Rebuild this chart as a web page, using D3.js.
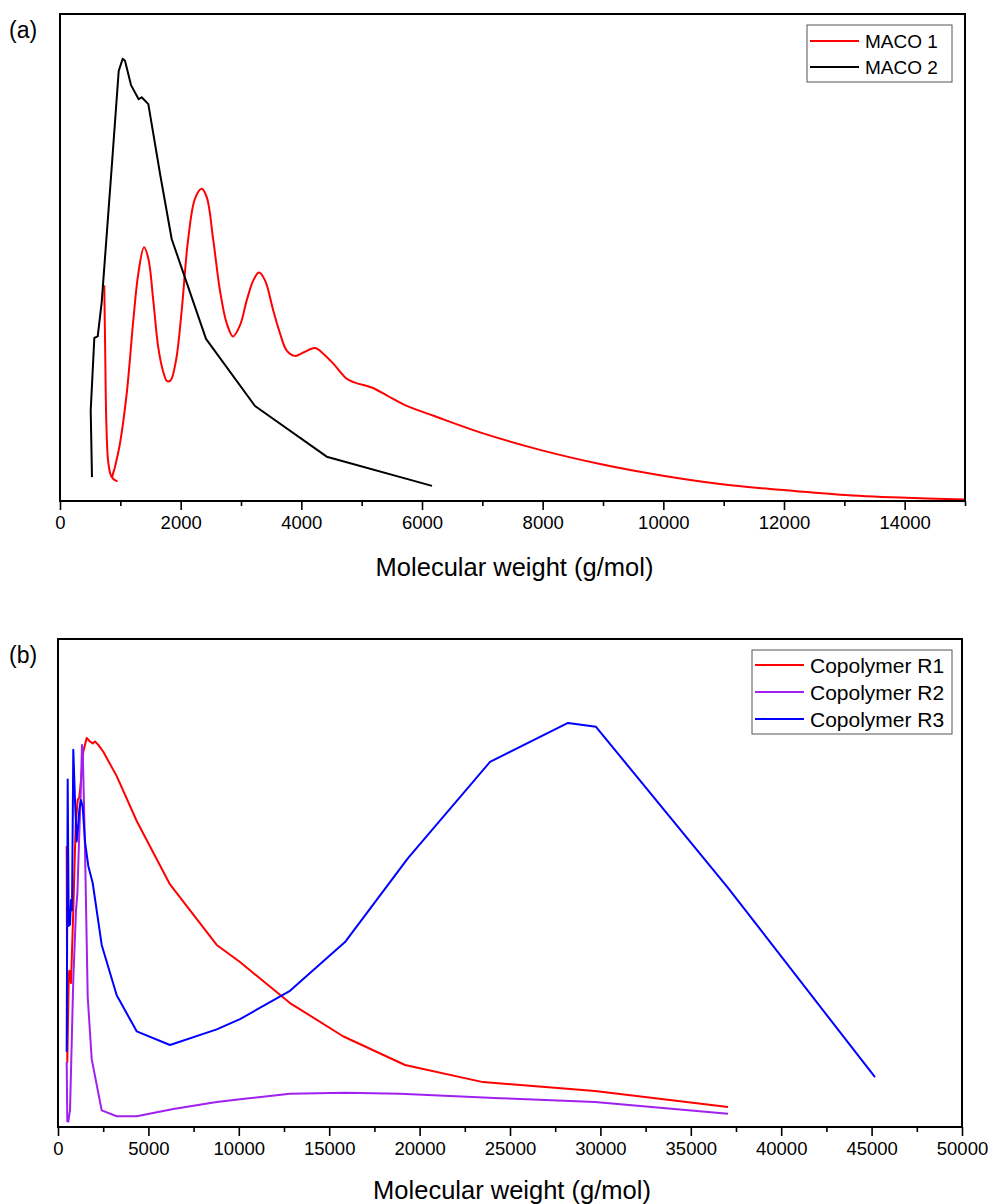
<!DOCTYPE html>
<html>
<head>
<meta charset="utf-8">
<script src="https://cdn.jsdelivr.net/npm/d3@7"></script>
<style>
body { margin: 0; background: #fff; }
svg text { font-family: Arial, "Liberation Sans", sans-serif; fill: #000; }
</style>
</head>
<body>
<div id="chart"></div>
<script>
// ---- panel (a) data: molecular weight (g/mol) vs. detector signal (a.u.) ----
const maco1Mw = [734, 749, 767, 796, 837, 870, 940, 870, 912, 995, 1106, 1215, 1298, 1392, 1464, 1546, 1629, 1712,
    1775, 1835, 1923, 2017, 2122, 2238, 2349, 2432, 2541, 2652, 2763, 2867, 2984, 3095, 3204, 3298, 3398, 3535, 3647,
    3758, 3895, 4033, 4227, 4359, 4530, 4752, 4890, 5166, 5415, 5718, 6216, 6962, 7956, 8951, 9945, 10940,
    11934, 12929, 13923, 15000];
const maco1Signal = [44.3, 30.9, 16.6, 8.4, 5.5, 4.7, 4.1, 4.7, 7.0, 11.9, 22.1, 37.1, 46.7, 52.1, 49.8, 41.2, 31.5, 26.5,
    24.6, 24.8, 28.9, 39.1, 53.5, 62.1, 64.1, 62.4, 53.5, 43.2, 36.5, 33.8, 36.1, 41.2, 45.3, 46.9, 45.3, 39.1, 34.4,
    30.9, 29.8, 30.5, 31.4, 30.3, 28.2, 25.1, 24.3, 23.3, 21.7, 19.7, 17.4, 14.1, 10.5, 7.6, 5.3, 3.5,
    2.3, 1.3, 0.7, 0.3];

const maco2Mw = [530, 509, 569, 625, 691, 857, 973, 1039, 1077, 1177, 1304, 1354, 1464, 1658, 1851, 2420, 3232, 4421, 6166];
const maco2Signal = [4.9, 18.6, 33.5, 33.8, 40.8, 68.5, 88.3, 90.8, 90.4, 85.4, 82.5, 82.9, 81.5, 67.2, 53.8, 33.3, 19.5, 9.1, 3.1];

// ---- panel (b) data ----
const r1Mw = [481, 514, 592, 625, 719, 846, 979, 1090, 1178, 1294, 1399, 1587, 1770, 1919, 2046, 2229, 2505, 3247,
    4353, 6195, 8778, 10066, 12832, 15763, 19193, 23507, 29701, 37058];
const r1Signal = [57.6, 13.3, 30.2, 32.0, 29.5, 44.4, 62.0, 67.1, 67.5, 71.9, 76.9, 79.7, 79.0, 78.6, 79.0, 78.3, 76.9, 71.9,
    62.7, 49.7, 37.3, 33.8, 25.4, 18.6, 12.7, 9.2, 7.4, 4.1];

const r2Mw = [481, 514, 570, 664, 846, 996, 1073, 1162, 1256, 1327, 1366, 1493, 1643, 1864, 2417, 3247, 4353, 6377,
    8778, 10066, 12832, 15874, 18916, 24447, 29701, 37058];
const r2Signal = [13.3, 1.2, 1.1, 3.4, 30.2, 44.4, 47.9, 58.5, 68.4, 78.3, 77.6, 57.1, 26.7, 13.9, 3.4, 2.2, 2.2, 3.7,
    5.1, 5.7, 6.8, 7.0, 6.8, 5.9, 5.1, 2.7];

const r3Mw = [481, 536, 592, 664, 719, 774, 846, 940, 1034, 1106, 1178, 1272, 1366, 1493, 1676, 1919, 2417, 3247,
    4353, 6195, 8778, 10066, 12832, 15874, 19359, 23894, 28208, 29757, 37058, 45188];
const r3Signal = [15.4, 71.2, 41.2, 41.5, 46.5, 44.4, 77.3, 67.0, 58.5, 61.4, 64.9, 67.0, 65.6, 58.5, 53.5, 50.0, 37.3, 27.0,
    19.6, 16.8, 20.0, 22.1, 27.9, 37.9, 55.1, 74.8, 82.8, 82.0, 49.0, 10.2];

// ---- axes ----
const ticksA = [0, 2000, 4000, 6000, 8000, 10000, 12000, 14000];
const ticksB = [0, 5000, 10000, 15000, 20000, 25000, 30000, 35000, 40000, 45000, 50000];
const xTitle = "Molecular weight (g/mol)";

/*
 * One GPC panel: framed box, bottom axis with minor ticks, curves, legend
 */
class GpcPanel {

    constructor(svg, cfg) {
        this.svg = svg;
        this.cfg = cfg;
        this.initVis();
    }

    initVis() {
        let vis = this;
        let c = vis.cfg;

        vis.g = vis.svg.append("g");

        vis.x = d3.scaleLinear()
            .domain([0, c.xMax])
            .range([c.left, c.right]);

        vis.y = d3.scaleLinear()
            .domain([0, 100])
            .range([c.bottom, c.top]);

        // minor ticks first, majors on top
        let minor = d3.range(0, c.xMax + 1, c.minorStep).filter(v => !c.ticks.includes(v));
        vis.g.append("g")
            .attr("class", "x-axis-minor")
            .attr("transform", "translate(0," + c.bottom + ")")
            .call(d3.axisBottom(vis.x).tickValues(minor).tickSize(5).tickSizeOuter(0).tickFormat(""));

        vis.xAxis = d3.axisBottom(vis.x)
            .tickValues(c.ticks)
            .tickSize(9)
            .tickSizeOuter(0)
            .tickPadding(6)
            .tickFormat(d3.format("d"));

        vis.g.append("g")
            .attr("class", "x-axis axis")
            .attr("transform", "translate(0," + c.bottom + ")")
            .call(vis.xAxis);

        vis.g.selectAll(".domain").remove();
        vis.g.selectAll(".tick line").attr("stroke", "#000").attr("stroke-width", 1.6);
        vis.g.selectAll(".x-axis .tick text")
            .attr("font-size", "18.5px")
            .attr("font-family", "Arial, 'Liberation Sans', sans-serif")
            .attr("fill", "#000");

        // clip for the curves
        vis.g.append("clipPath")
            .attr("id", c.id + "-clip")
            .append("rect")
            .attr("x", c.left)
            .attr("y", c.top)
            .attr("width", c.right - c.left)
            .attr("height", c.bottom - c.top);

        let line = d3.line()
            .x(d => vis.x(d[0]))
            .y(d => vis.y(d[1]));

        c.series.forEach(function(s) {
            let pts = s.mw.map((m, i) => [m, s.signal[i]]);
            line.curve(s.smooth ? d3.curveCatmullRom.alpha(0.5) : d3.curveLinear);
            vis.g.append("path")
                .datum(pts)
                .attr("clip-path", "url(#" + c.id + "-clip)")
                .attr("fill", "none")
                .attr("stroke", s.color)
                .attr("stroke-width", 2)
                .attr("stroke-linejoin", "round")
                .attr("d", line);
        });

        // frame
        vis.g.append("rect")
            .attr("x", c.left)
            .attr("y", c.top)
            .attr("width", c.right - c.left)
            .attr("height", c.bottom - c.top)
            .attr("fill", "none")
            .attr("stroke", "#000")
            .attr("stroke-width", 2);

        // axis title + panel label
        vis.g.append("text")
            .attr("x", (c.left + c.right) / 2 + 2)
            .attr("y", c.bottom + c.titleDy)
            .attr("text-anchor", "middle")
            .attr("font-size", "25.5px")
            .text(xTitle);

        vis.g.append("text")
            .attr("x", 9)
            .attr("y", c.top + 24)
            .attr("font-size", "23px")
            .text(c.label);

        // legend
        let lg = c.legend;
        vis.g.append("rect")
            .attr("x", lg.x)
            .attr("y", lg.y)
            .attr("width", lg.w)
            .attr("height", lg.h)
            .attr("fill", "#fff")
            .attr("stroke", "#555")
            .attr("stroke-width", 1);

        let items = vis.g.selectAll(".legend-item")
            .data(c.series)
            .enter()
            .append("g")
            .attr("class", "legend-item")
            .attr("transform", (d, i) => "translate(" + lg.x + "," + (lg.y + lg.first + i * lg.step) + ")");

        items.append("line")
            .attr("x1", 3)
            .attr("x2", 52)
            .attr("stroke", d => d.color)
            .attr("stroke-width", 2);

        items.append("text")
            .attr("x", 58)
            .attr("y", lg.fontSize * 0.36)
            .attr("font-size", lg.fontSize + "px")
            .text(d => d.name);
    }
}

let svg = d3.select("#chart").append("svg")
    .attr("width", 992)
    .attr("height", 1204);

new GpcPanel(svg, {
    id: "pa", label: "(a)",
    left: 60, right: 965, top: 14, bottom: 501, titleDy: 75,
    xMax: 15000, ticks: ticksA, minorStep: 1000,
    legend: {x: 807, y: 25, w: 145, h: 57, first: 16, step: 26, fontSize: 19},
    series: [
        {name: "MACO 1", color: "#ff0000", mw: maco1Mw, signal: maco1Signal, smooth: true},
        {name: "MACO 2", color: "#000000", mw: maco2Mw, signal: maco2Signal, smooth: false}
    ]
});

new GpcPanel(svg, {
    id: "pb", label: "(b)",
    left: 58, right: 962, top: 639, bottom: 1127, titleDy: 72,
    xMax: 50000, ticks: ticksB, minorStep: 2500,
    legend: {x: 752, y: 650, w: 200, h: 84, first: 15, step: 27, fontSize: 21},
    series: [
        {name: "Copolymer R1", color: "#ff0000", mw: r1Mw, signal: r1Signal, smooth: false},
        {name: "Copolymer R2", color: "#a020f0", mw: r2Mw, signal: r2Signal, smooth: false},
        {name: "Copolymer R3", color: "#0000ff", mw: r3Mw, signal: r3Signal, smooth: false}
    ]
});
</script>
</body>
</html>
